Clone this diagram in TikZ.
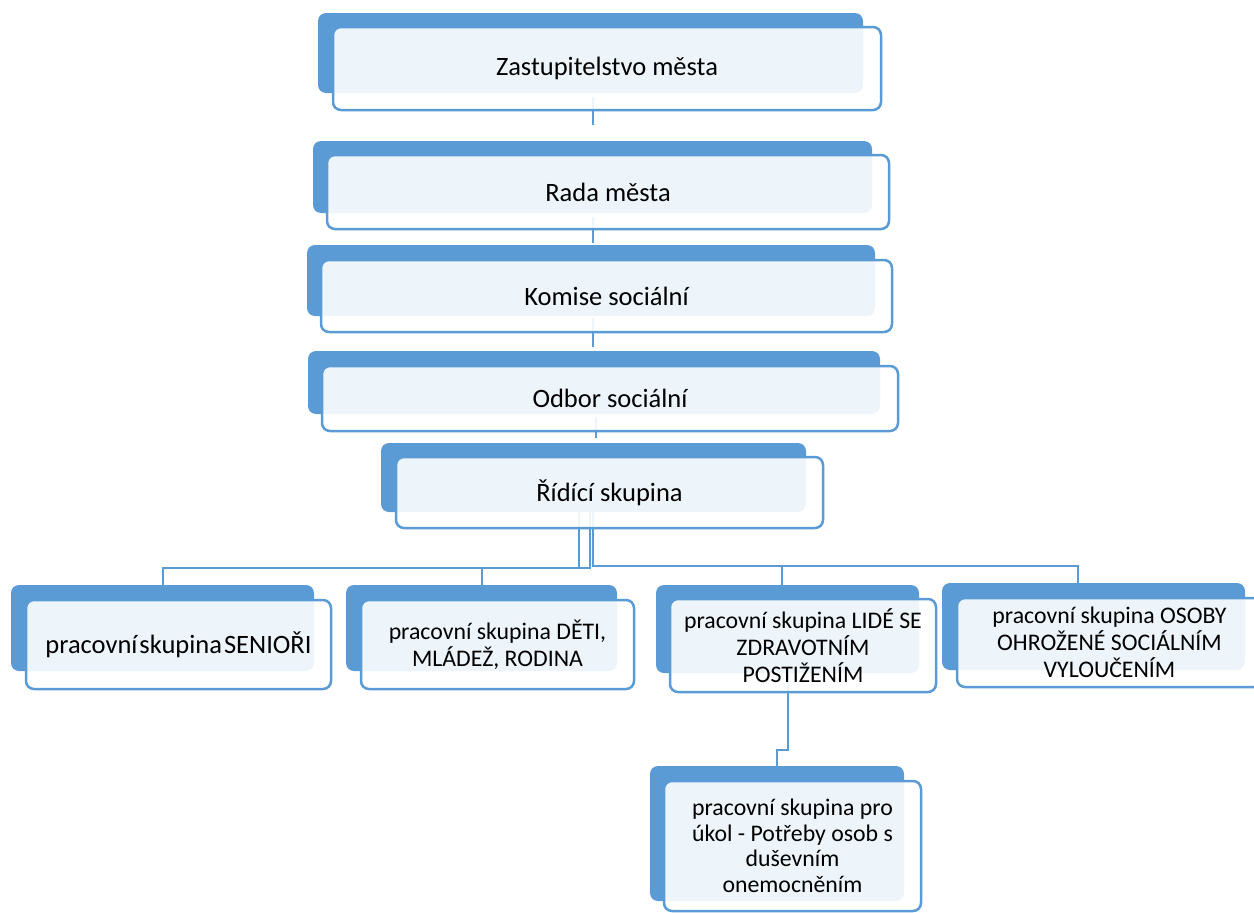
\documentclass[tikz,border=0pt]{standalone}
\usepackage{fontspec}
\setmainfont{Carlito}
\usepackage{xcolor}
\definecolor{accentblue}{HTML}{5B9BD5}
\tikzset{
	backbox/.style={fill=accentblue, rounded corners=8pt, inner sep=0pt},
	frontbox/.style={draw=accentblue, line width=2.5pt, fill=white, fill opacity=0.9, text opacity=1, rounded corners=8pt, inner sep=0pt, align=center},
	conn/.style={draw=accentblue, line width=2pt},
	bigtext/.style={font=\fontsize{26.5}{32}\selectfont},
	smalltext/.style={font=\fontsize{23.8}{27}\selectfont},
}

\begin{document}
\begin{tikzpicture}[x=1pt, y=-1pt]
		\useasboundingbox (0,0) rectangle (1254,913);
		\clip (0,0) rectangle (1254,913);
		% dark boxes behind
		\node[backbox, minimum width=545pt, minimum height=80pt] (zastB) at (590.5,53) {};
		\node[backbox, minimum width=559pt, minimum height=72pt] (radaB) at (592.5,177) {};
		\node[backbox, minimum width=568pt, minimum height=71pt] (komB) at (591,280.5) {};
		\node[backbox, minimum width=572pt, minimum height=63pt] (odbB) at (594,382.5) {};
		\node[backbox, minimum width=425pt, minimum height=69pt] (ridB) at (593.5,477.5) {};
		\node[backbox, minimum width=303pt, minimum height=86pt] (senB) at (162.5,628) {};
		\node[backbox, minimum width=271pt, minimum height=86pt] (detB) at (481.5,628) {};
		\node[backbox, minimum width=263pt, minimum height=88pt] (lidB) at (787.5,629) {};
		\node[backbox, minimum width=303pt, minimum height=87pt] (osbB) at (1093.5,626.5) {};
		\node[backbox, minimum width=254pt, minimum height=135pt] (ukolB) at (777,833.5) {};
		% connectors
		\coordinate (spine) at (593,0);
		\draw[conn] ([yshift=-4pt]zastB.south -| spine) -- ([yshift=16pt]radaB.north -| spine);
		\draw[conn] ([yshift=-4pt]radaB.south -| spine) -- ([yshift=2pt]komB.north -| spine);
		\draw[conn] ([yshift=-2pt]komB.south -| spine) -- ([yshift=4pt]odbB.north -| spine);
		\draw[conn] ([xshift=3pt, yshift=-3pt]odbB.south -| spine) -- ([xshift=3pt, yshift=5pt]ridB.north -| spine);
		\coordinate (busL1) at (590,568);
		\coordinate (busL2) at (579,568);
		\coordinate (busR) at (593,566);
		\draw[conn] (ridB.south -| busL1) -- (busL1) -| (senB.north);
		\draw[conn] (ridB.south -| busL2) -- (busL2) -| (detB.north);
		\draw[conn] (ridB.south -| busR) -- (busR) -| ([xshift=-5.5pt]lidB.north);
		\draw[conn] (ridB.south -| busR) -- (busR) -| ([xshift=-15.5pt]osbB.north);
		\draw[conn] (lidB.south) -- ++(0,77) -| (ukolB.north);
		% light boxes in front
		\node[frontbox, bigtext, minimum width=548pt, minimum height=83pt] (zast) at (607,68.5) {Zastupitelstvo města};
		\node[frontbox, bigtext, minimum width=562pt, minimum height=74pt] (rada) at (608,192) {Rada města};
		\node[frontbox, bigtext, minimum width=571pt, minimum height=72pt] (kom) at (606.5,296) {Komise sociální};
		\node[frontbox, bigtext, minimum width=576pt, minimum height=65pt] (odb) at (610,398.5) {Odbor sociální};
		\node[frontbox, bigtext, minimum width=427pt, minimum height=71pt] (rid) at (609.5,492.5) {Řídící skupina};
		\node[frontbox, font=\fontsize{26.5}{30}\selectfont, minimum width=305pt, minimum height=89pt] (sen) at (178.5,644.5) {\spaceskip=2pt pracovní skupina SENIOŘI};
		\node[frontbox, smalltext, minimum width=273pt, minimum height=89pt] (det) at (497.5,644.5) {pracovní skupina DĚTI,\\ MLÁDEŽ, RODINA};
		\node[frontbox, smalltext, minimum width=266pt, minimum height=93pt] (lid) at (803,645.5) {pracovní skupina LIDÉ SE\\ ZDRAVOTNÍM\\ POSTIŽENÍM};
		\node[frontbox, smalltext, minimum width=305pt, minimum height=89pt] (osb) at (1109.5,642.5) {pracovní skupina OSOBY\\ OHROŽENÉ SOCIÁLNÍM\\ VYLOUČENÍM};
		\node[frontbox, font=\fontsize{23.8}{25.5}\selectfont, minimum width=257pt, minimum height=130pt] (ukol) at (792.5,846) {pracovní skupina pro\\ úkol - Potřeby osob s\\ duševním\\ onemocněním};
	\end{tikzpicture}
\end{document}
